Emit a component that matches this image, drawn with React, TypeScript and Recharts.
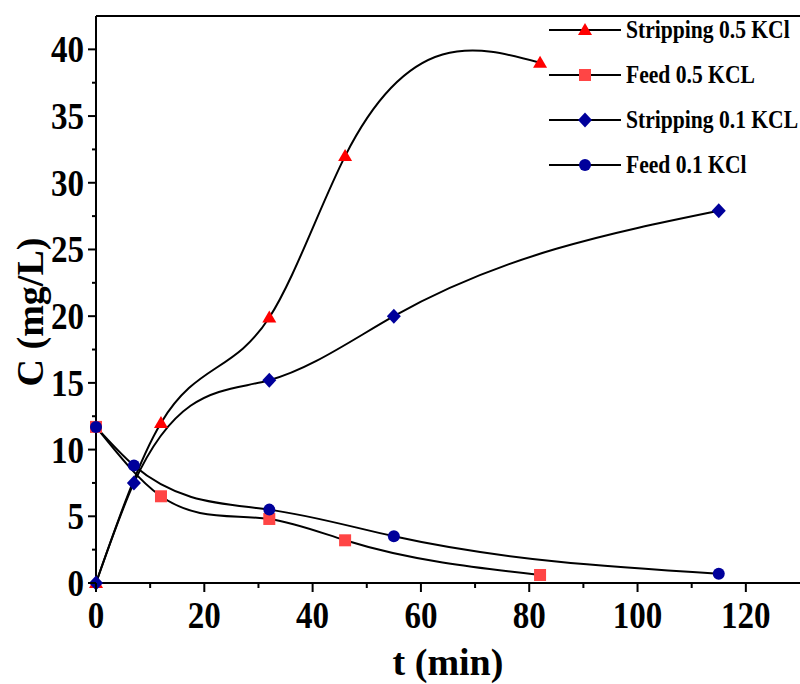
import React from "react"
import { LineChart, Line, XAxis, YAxis, Legend, ReferenceLine } from "recharts"

// time (min) and concentration (mg/L)
const strip05Time = [0, 12, 32, 46, 82]
const strip05Conc = [0, 12, 19.9, 32, 39]

const feed05Time = [0, 12, 32, 46, 82]
const feed05Conc = [11.7, 6.5, 4.8, 3.2, 0.6]

const strip01Time = [0, 7, 32, 55, 115]
const strip01Conc = [0, 7.5, 15.2, 20, 27.9]

const feed01Time = [0, 7, 32, 55, 115]
const feed01Conc = [11.7, 8.8, 5.5, 3.5, 0.7]

const xTicks = [0, 10, 20, 30, 40, 50, 60, 70, 80, 90, 100, 110, 120]
const yTicks = [0, 2.5, 5, 7.5, 10, 12.5, 15, 17.5, 20, 22.5, 25, 27.5, 30, 32.5, 35, 37.5, 40]

const FONT = '"Liberation Serif", "Times New Roman", serif'
const RED = "#ff0000"
const PINK = "#ff4545"
const NAVY = "#00009b"

const toRows = (xs: number[], ys: number[]) => xs.map((x, i) => ({ x, y: ys[i] }))

const series = [
  { name: "Stripping 0.5 KCl", data: toRows(strip05Time, strip05Conc), shape: "triangle", color: RED },
  { name: "Feed 0.5 KCL", data: toRows(feed05Time, feed05Conc), shape: "square", color: PINK },
  { name: "Stripping 0.1 KCL", data: toRows(strip01Time, strip01Conc), shape: "diamond", color: NAVY },
  { name: "Feed 0.1 KCl", data: toRows(feed01Time, feed01Conc), shape: "circle", color: NAVY },
]

// natural cubic spline in x (like Origin's spline connect), as a d3-style curve factory
function splineX(context: any) {
  let pts: [number, number][] = []
  return {
    areaStart() {},
    areaEnd() {},
    lineStart() {
      pts = []
    },
    point(x: number, y: number) {
      pts.push([+x, +y])
    },
    lineEnd() {
      const n = pts.length
      if (!n) return
      context.moveTo(pts[0][0], pts[0][1])
      if (n < 3) {
        for (let i = 1; i < n; i++) context.lineTo(pts[i][0], pts[i][1])
        return
      }
      const h: number[] = []
      for (let i = 0; i < n - 1; i++) h.push(pts[i + 1][0] - pts[i][0])
      // solve for second derivatives (M0 = Mn-1 = 0)
      const a: number[] = new Array(n).fill(0)
      const b: number[] = new Array(n).fill(1)
      const c: number[] = new Array(n).fill(0)
      const d: number[] = new Array(n).fill(0)
      for (let i = 1; i < n - 1; i++) {
        a[i] = h[i - 1]
        b[i] = 2 * (h[i - 1] + h[i])
        c[i] = h[i]
        d[i] = 6 * ((pts[i + 1][1] - pts[i][1]) / h[i] - (pts[i][1] - pts[i - 1][1]) / h[i - 1])
      }
      for (let i = 1; i < n; i++) {
        const m = a[i] / b[i - 1]
        b[i] -= m * c[i - 1]
        d[i] -= m * d[i - 1]
      }
      const M: number[] = new Array(n).fill(0)
      M[n - 1] = d[n - 1] / b[n - 1]
      for (let i = n - 2; i >= 0; i--) M[i] = (d[i] - c[i] * M[i + 1]) / b[i]
      for (let i = 0; i < n - 1; i++) {
        const [x0, y0] = pts[i]
        const [x1, y1] = pts[i + 1]
        const hi = h[i]
        const s = (y1 - y0) / hi
        const d0 = s - (hi * (2 * M[i] + M[i + 1])) / 6
        const d1 = s + (hi * (M[i] + 2 * M[i + 1])) / 6
        context.bezierCurveTo(x0 + hi / 3, y0 + (hi / 3) * d0, x1 - hi / 3, y1 - (hi / 3) * d1, x1, y1)
      }
    },
  }
}

function Marker({ cx, cy, shape, color }: any) {
  if (cx == null || cy == null) return null
  if (shape === "triangle")
    return <polygon points={`${cx},${cy - 7} ${cx - 7},${cy + 5} ${cx + 7},${cy + 5}`} fill={color} />
  if (shape === "square") return <rect x={cx - 6} y={cy - 6} width={12} height={12} fill={color} />
  if (shape === "diamond")
    return <polygon points={`${cx},${cy - 7.5} ${cx + 7},${cy} ${cx},${cy + 7.5} ${cx - 7},${cy}`} fill={color} />
  return <circle cx={cx} cy={cy} r={6} fill={color} />
}

function YTick({ x, y, payload }: any) {
  const major = payload.value % 5 === 0
  return (
    <g>
      <line x1={x - (major ? 8 : 4)} y1={y} x2={x} y2={y} stroke="#000" strokeWidth={2} />
      {major && (
        <text
          transform={`translate(${x - 12},${y + 13}) scale(0.87,1)`}
          textAnchor="end"
          fontFamily={FONT}
          fontWeight="bold"
          fontSize={38}
          fill="#000"
        >
          {payload.value}
        </text>
      )}
    </g>
  )
}

function XTick({ x, y, payload }: any) {
  const major = payload.value % 20 === 0
  return (
    <g>
      <line x1={x} y1={y} x2={x} y2={y + (major ? 9 : 5)} stroke="#000" strokeWidth={2} />
      {major && (
        <text
          transform={`translate(${x},${y + 45}) scale(0.87,1)`}
          textAnchor="middle"
          fontFamily={FONT}
          fontWeight="bold"
          fontSize={38}
          fill="#000"
        >
          {payload.value}
        </text>
      )}
    </g>
  )
}

function XTitle({ viewBox }: any) {
  const cx = viewBox.x + viewBox.width / 2
  return (
    <text x={cx} y={675} textAnchor="middle" fontFamily={FONT} fontWeight="bold" fontSize={38} fill="#000">
      t (min)
    </text>
  )
}

function YTitle() {
  return (
    <text
      transform="translate(43,312) rotate(-90)"
      textAnchor="middle"
      fontFamily={FONT}
      fontWeight="bold"
      fontSize={38}
      fill="#000"
    >
      C (mg/L)
    </text>
  )
}

function LegendBox() {
  return (
    <div style={{ fontFamily: FONT, fontWeight: "bold", fontSize: 26 }}>
      {series.map((s) => (
        <div key={s.name} style={{ height: 45, display: "flex", alignItems: "center" }}>
          <svg width={77} height={20} style={{ flex: "none" }}>
            <line x1={0} y1={10} x2={72} y2={10} stroke="#000" strokeWidth={2} />
            <Marker cx={36} cy={10} shape={s.shape} color={s.color} />
          </svg>
          <span style={{ display: "inline-block", transform: "scale(0.83,1)", transformOrigin: "left center", whiteSpace: "nowrap" }}>
            {s.name}
          </span>
        </div>
      ))}
    </div>
  )
}

export default function App() {
  return (
    <div style={{ position: "absolute", left: 0, top: 0, background: "#fff" }}>
      <LineChart width={800} height={684} margin={{ top: 16, right: 0, bottom: 0, left: 0 }}>
        <XAxis
          dataKey="x"
          type="number"
          domain={[0, 130]}
          ticks={xTicks}
          interval={0}
          height={101}
          tickSize={0}
          tickMargin={0}
          tick={<XTick />}
          axisLine={{ stroke: "#000", strokeWidth: 2 }}
          label={<XTitle />}
        />
        <YAxis
          type="number"
          domain={[0, 42.5]}
          ticks={yTicks}
          interval={0}
          width={96}
          tickSize={0}
          tickMargin={0}
          tick={<YTick />}
          axisLine={{ stroke: "#000", strokeWidth: 2 }}
          label={<YTitle />}
        />
        <ReferenceLine y={42.5} stroke="#000" strokeWidth={2} />
        {series.map((s) => (
          <Line
            key={s.name}
            name={s.name}
            data={s.data}
            dataKey="y"
            type={splineX as any}
            stroke="#000"
            strokeWidth={2}
            isAnimationActive={false}
            dot={(p: any) => <Marker key={`${s.name}-${p.index}`} cx={p.cx} cy={p.cy} shape={s.shape} color={s.color} />}
            activeDot={false}
          />
        ))}
        <Legend
          layout="vertical"
          align="center"
          verticalAlign="middle"
          content={<LegendBox />}
          wrapperStyle={{ top: 7, left: 549, width: 251 }}
        />
      </LineChart>
    </div>
  )
}
